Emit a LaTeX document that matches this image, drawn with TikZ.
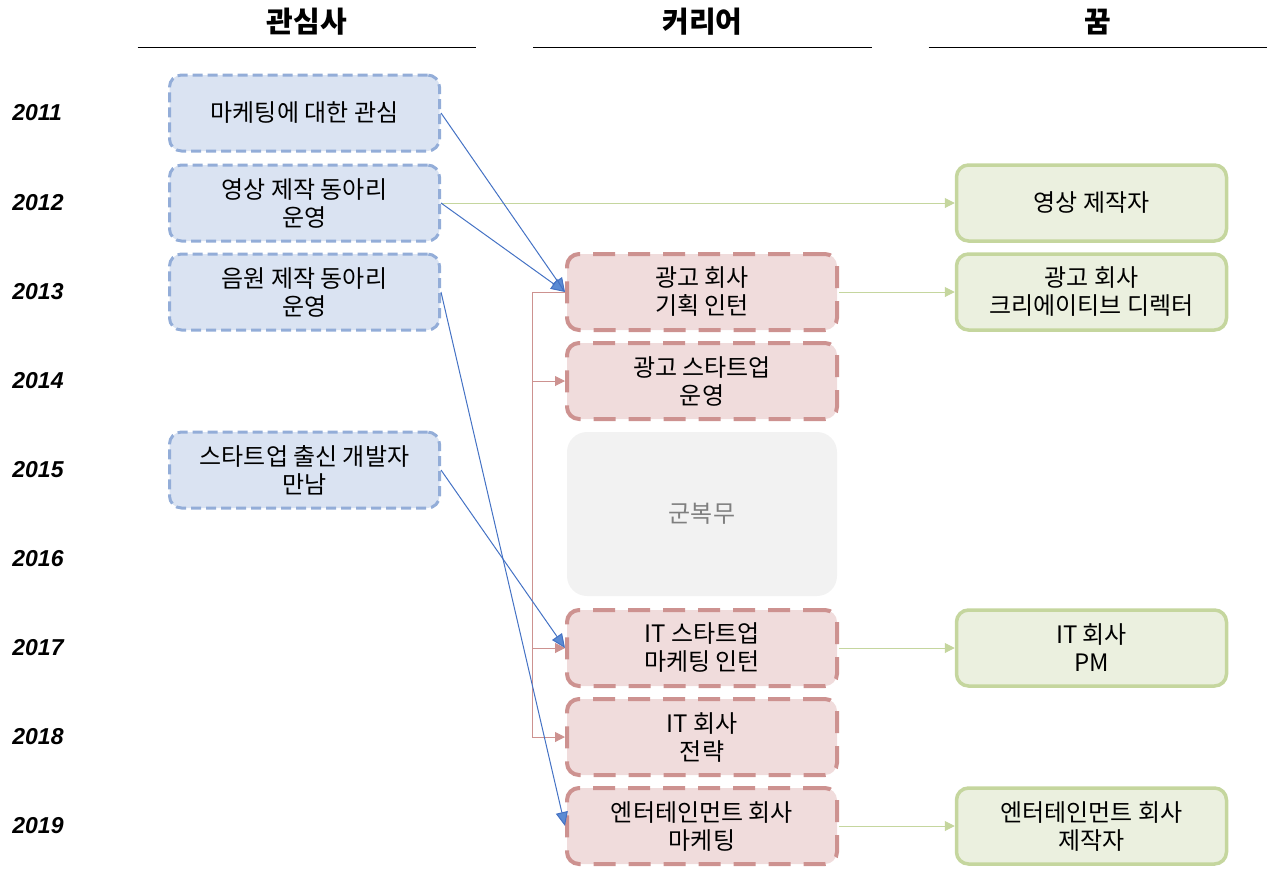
\documentclass[tikz,border=0pt]{standalone}
\usepackage{fontspec}
\setmainfont{Noto Sans CJK KR}
\newfontfamily\yearfont{Liberation Sans}
\usetikzlibrary{arrows.meta}
\definecolor{intfill}{HTML}{DAE3F2}
\definecolor{intdraw}{HTML}{93ADD8}
\definecolor{carfill}{HTML}{F0DCDC}
\definecolor{cardraw}{HTML}{CD9290}
\definecolor{drmfill}{HTML}{EBF0DF}
\definecolor{drmdraw}{HTML}{C5D69E}
\definecolor{armyfill}{HTML}{F2F2F2}
\definecolor{armytext}{HTML}{7F7F7F}
\definecolor{linkblue}{HTML}{4472C4}
\definecolor{arrowblue}{HTML}{5B8BD3}

\begin{document}
\begin{tikzpicture}[x=0.5pt,y=-0.5pt,
    box/.style={rounded corners=6pt,minimum width=135pt,minimum height=38pt,
      align=center,inner sep=2pt,font=\fontsize{12}{14}\selectfont},
    interest/.style={box,draw=intdraw,fill=intfill,line width=1.5pt,
      dash pattern=on 5pt off 2.5pt},
    career/.style={box,draw=cardraw,fill=carfill,line width=2pt,
      dash pattern=on 11pt off 6.5pt},
    dream/.style={box,draw=drmdraw,fill=drmfill,line width=1.75pt},
    year/.style={anchor=west,inner sep=0pt,
      font=\yearfont\bfseries\itshape\fontsize{11.5}{13}\selectfont},
    head/.style={anchor=south,minimum width=169pt,minimum height=25pt,
      inner sep=0pt,font=\bfseries\fontsize{14.5}{16}\selectfont},
    link/.style={draw=linkblue,line width=0.5pt,
      -{Triangle[length=7pt,width=6pt,fill=arrowblue]}},
    goal/.style={draw=drmdraw,line width=0.5pt,
      -{Triangle[length=5pt,width=5pt]}},
    next/.style={draw=cardraw,line width=0.5pt,
      -{Triangle[length=5pt,width=5pt]}}]
  \useasboundingbox (0,0) rectangle (1280,879);
  % headers
  \node[head] (hint) at (307,47) {관심사};
  \node[head] (hcar) at (702.5,47) {커리어};
  \node[head] (hdrm) at (1098,47) {꿈};
  \foreach \h in {hint,hcar,hdrm}
    \draw[line width=0.5pt] (\h.south west) -- (\h.south east);
  % years
  \foreach \y [count=\i from 0] in {2011,...,2019}
    \node[year] (y\y) at (12,{113+89.125*\i}) {\y};
  % interests
  \node[interest] (mkt) at (304.5,113) {마케팅에 대한 관심};
  \node[interest] (video) at (304.5,203) {영상 제작 동아리\\운영};
  \node[interest] (music) at (304.5,292) {음원 제작 동아리\\운영};
  \node[interest] (dev) at (304.5,470) {스타트업 출신 개발자\\만남};
  % career
  \node[career] (adco) at (702,292) {광고 회사\\기획 인턴};
  \node[career] (adstart) at (702,381) {광고 스타트업\\운영};
  \node[box,fill=armyfill,minimum height=82pt,text=armytext,rounded corners=10pt]
    (army) at (702,514) {군복무};
  \node[career] (itstart) at (702,648) {IT 스타트업\\마케팅 인턴};
  \node[career] (itco) at (702,737) {IT 회사\\전략};
  \node[career] (ent) at (702,826) {엔터테인먼트 회사\\마케팅};
  % dreams
  \node[dream] (maker) at (1091.5,203) {영상 제작자};
  \node[dream] (cd) at (1091.5,292) {광고 회사\\크리에이티브 디렉터};
  \node[dream] (pm) at (1091.5,648) {IT 회사\\PM};
  \node[dream] (prod) at (1091.5,826) {엔터테인먼트 회사\\제작자};
  % career path
  \foreach \c in {adstart,itstart,itco}
    \draw[next] (adco.west) -- ++(-33,0) |- (\c.west);
  % dreams
  \draw[goal] (video.east) -- (maker.west);
  \draw[goal] (adco.east) -- (cd.west);
  \draw[goal] (itstart.east) -- (pm.west);
  \draw[goal] (ent.east) -- (prod.west);
  % interests to career
  \draw[link] (mkt.east) -- (adco.west);
  \draw[link] (video.east) -- (adco.west);
  \draw[link] (music.east) -- (ent.west);
  \draw[link] (dev.east) -- (itstart.west);
\end{tikzpicture}
\end{document}
